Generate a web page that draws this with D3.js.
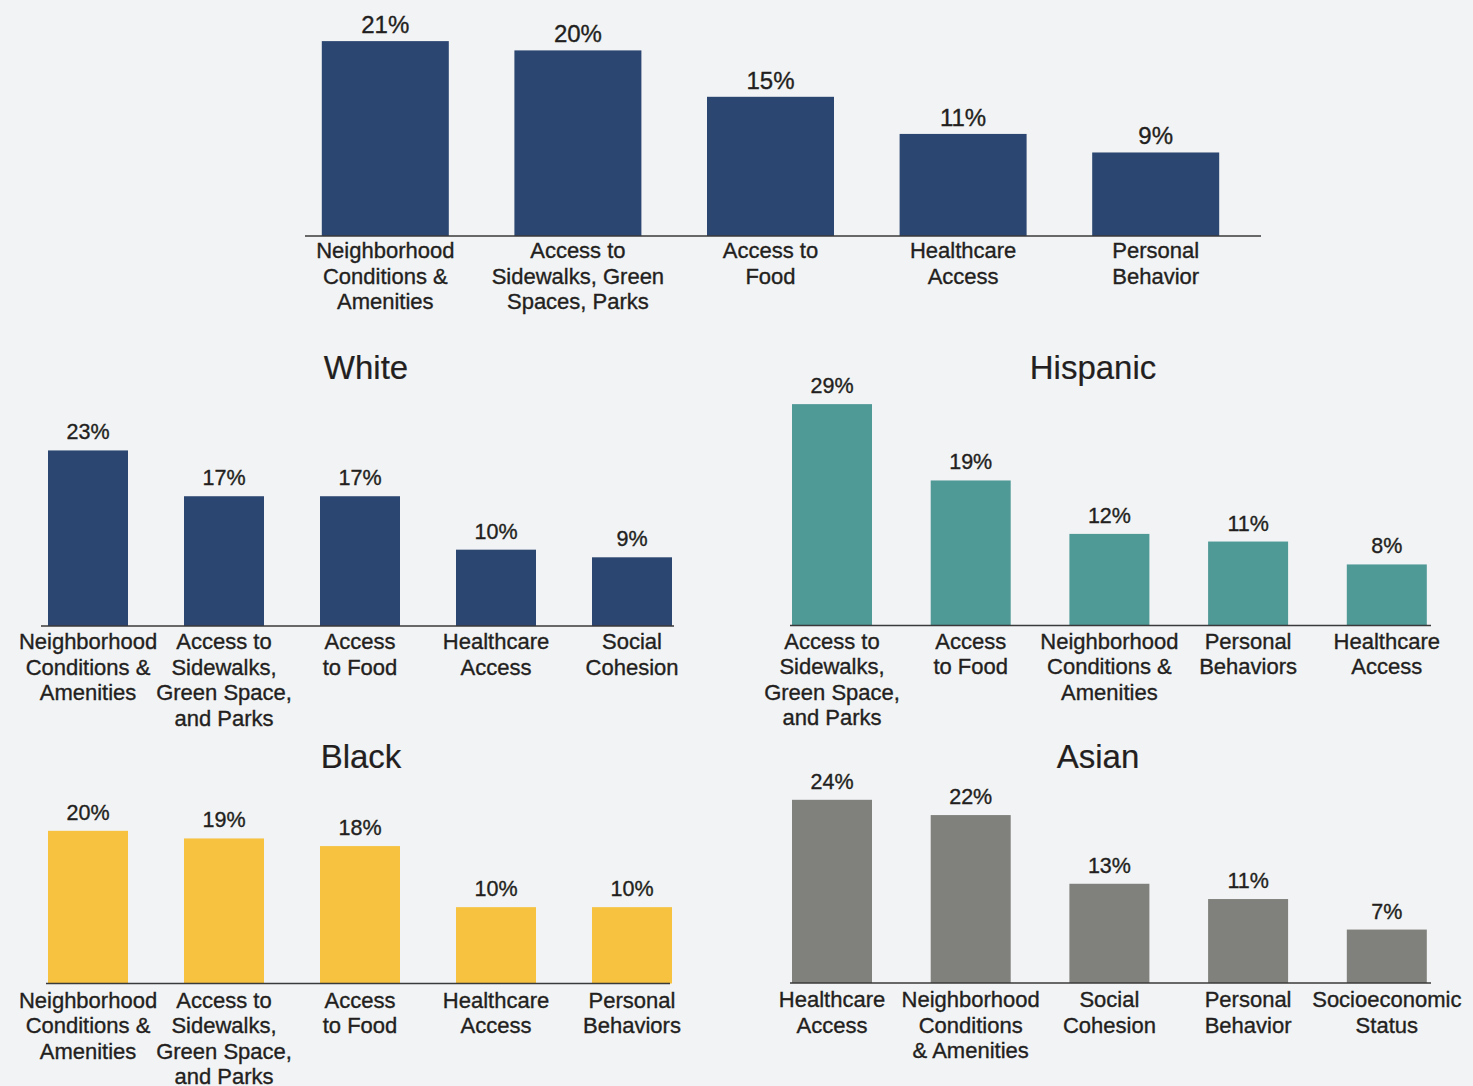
<!DOCTYPE html>
<html>
<head>
<meta charset="utf-8">
<script src="https://cdn.jsdelivr.net/npm/d3@7"></script>
<style>
  html, body { margin: 0; padding: 0; background: #F2F3F5; }
  svg { display: block; }
  text { font-family: "Liberation Sans", Arial, Helvetica, sans-serif; fill: #231F20; stroke: #231F20; stroke-width: 0.35px; }
</style>
</head>
<body>
<svg id="chart" width="1473" height="1086"></svg>
<script>
// ---------- DATA ----------
const topCategories = ["Neighborhood\nConditions &\nAmenities", "Access to\nSidewalks, Green\nSpaces, Parks", "Access to\nFood", "Healthcare\nAccess", "Personal\nBehavior"];
const topValues = [21, 20, 15, 11, 9];

const whiteCategories = ["Neighborhood\nConditions &\nAmenities", "Access to\nSidewalks,\nGreen Space,\nand Parks", "Access\nto Food", "Healthcare\nAccess", "Social\nCohesion"];
const whiteValues = [23, 17, 17, 10, 9];

const hispanicCategories = ["Access to\nSidewalks,\nGreen Space,\nand Parks", "Access\nto Food", "Neighborhood\nConditions &\nAmenities", "Personal\nBehaviors", "Healthcare\nAccess"];
const hispanicValues = [29, 19, 12, 11, 8];

const blackCategories = ["Neighborhood\nConditions &\nAmenities", "Access to\nSidewalks,\nGreen Space,\nand Parks", "Access\nto Food", "Healthcare\nAccess", "Personal\nBehaviors"];
const blackValues = [20, 19, 18, 10, 10];

const asianCategories = ["Healthcare\nAccess", "Neighborhood\nConditions\n& Amenities", "Social\nCohesion", "Personal\nBehavior", "Socioeconomic\nStatus"];
const asianValues = [24, 22, 13, 11, 7];

const panelTitles = ["", "White", "Hispanic", "Black", "Asian"];

// ---------- LAYOUT ----------
const svg = d3.select("#chart");
svg.append("rect").attr("width", 1473).attr("height", 1086).attr("fill", "#F2F3F5");

const panels = [
  { cats: topCategories, vals: topValues, title: panelTitles[0], color: "#2B4670",
    range: [289, 1252], pad: 0.3406, base: 236, top: 4, yMax: 25, axis: [305, 1261],
    valFont: 24, valGap: 8, labFont: 22, labFirst: 22, lineH: 25.5 },
  { cats: whiteCategories, vals: whiteValues, title: panelTitles[1], color: "#2B4670",
    range: [20, 700], pad: 0.4118, base: 626, top: 397, yMax: 30, axis: [41, 674],
    titleX: 366, titleY: 379,
    valFont: 21.5, valGap: 11, labFont: 22, labFirst: 23, lineH: 25.5 },
  { cats: hispanicCategories, vals: hispanicValues, title: panelTitles[2], color: "#4F9997",
    range: [762.65, 1456.15], pad: 0.4232, base: 625.5, top: 396.5, yMax: 30, axis: [790, 1431],
    titleX: 1093, titleY: 379,
    valFont: 21.5, valGap: 11, labFont: 22, labFirst: 23, lineH: 25.5 },
  { cats: blackCategories, vals: blackValues, title: panelTitles[3], color: "#F6C23F",
    range: [20, 700], pad: 0.4118, base: 983.5, top: 754.5, yMax: 30, axis: [46, 670],
    titleX: 361, titleY: 768,
    valFont: 21.5, valGap: 11, labFont: 22, labFirst: 24, lineH: 25.5 },
  { cats: asianCategories, vals: asianValues, title: panelTitles[4], color: "#80817D",
    range: [762.65, 1456.15], pad: 0.4232, base: 983, top: 754, yMax: 30, axis: [790, 1431],
    titleX: 1098, titleY: 768,
    valFont: 21.5, valGap: 11, labFont: 22, labFirst: 24, lineH: 25.5 }
];

panels.forEach((p, pi) => {
  const g = svg.append("g").attr("class", "panel-" + pi);
  const idx = p.cats.map((_, i) => i);
  const x = d3.scaleBand().domain(idx).range(p.range)
    .paddingInner(p.pad).paddingOuter(p.pad / 2);
  const y = d3.scaleLinear().domain([0, p.yMax]).range([p.base, p.top]);

  if (p.title) {
    g.append("text")
      .attr("x", p.titleX).attr("y", p.titleY)
      .attr("text-anchor", "middle")
      .style("font-size", "33px")
      .style("stroke-width", "0.2px")
      .text(p.title);
  }

  // bars
  g.selectAll("rect.bar").data(p.vals).join("rect")
    .attr("class", "bar")
    .attr("x", (d, i) => x(i))
    .attr("width", x.bandwidth())
    .attr("y", d => y(d))
    .attr("height", d => y(0) - y(d))
    .attr("fill", p.color);

  // value labels
  g.selectAll("text.val").data(p.vals).join("text")
    .attr("class", "val")
    .attr("x", (d, i) => x(i) + x.bandwidth() / 2)
    .attr("y", d => y(d) - p.valGap)
    .attr("text-anchor", "middle")
    .style("font-size", p.valFont + "px")
    .text(d => d + "%");

  // axis with multi-line category labels
  const axis = d3.axisBottom(x).tickSize(0).tickPadding(0).tickFormat(i => p.cats[i]);
  const ag = g.append("g").attr("transform", `translate(0,${p.base})`).call(axis);
  ag.select(".domain").remove();
  ag.selectAll(".tick text").each(function(i) {
    const t = d3.select(this);
    const lines = p.cats[i].split("\n");
    t.text(null)
      .attr("y", p.labFirst)
      .attr("dy", null)
      .attr("fill", "#231F20")
      .style("font-size", p.labFont + "px")
      .style("font-family", '"Liberation Sans", Arial, Helvetica, sans-serif');
    lines.forEach((ln, k) => {
      t.append("tspan").attr("x", 0).attr("y", p.labFirst + k * p.lineH).text(ln);
    });
  });

  // baseline
  g.append("line")
    .attr("x1", p.axis[0]).attr("x2", p.axis[1])
    .attr("y1", y(0)).attr("y2", y(0))
    .attr("stroke", "#3A3A3A").attr("stroke-width", 1.6);
});
</script>
</body>
</html>
